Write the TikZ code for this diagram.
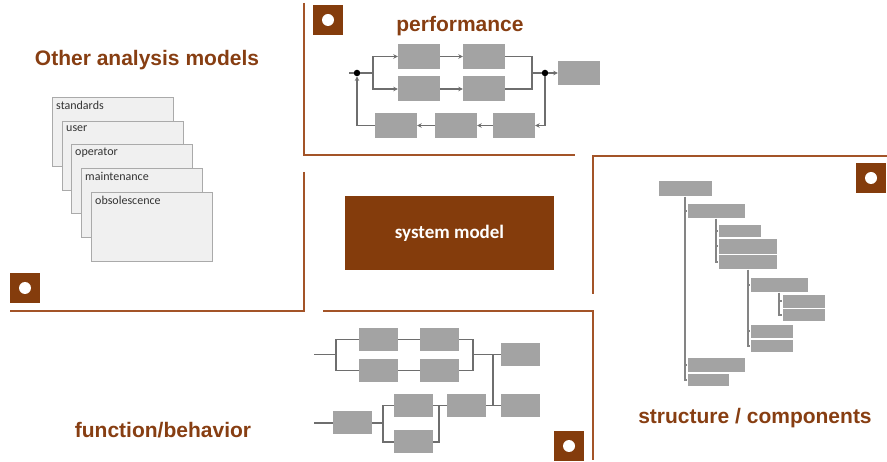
\documentclass[tikz,border=0pt]{standalone}
\usepackage{fontspec}
\setmainfont{Liberation Sans}
\newfontfamily\calfont{Carlito}
\usetikzlibrary{arrows.meta}
\definecolor{brownline}{RGB}{163,84,40}
\definecolor{browntext}{RGB}{135,62,18}
\definecolor{brownbox}{RGB}{132,60,12}
\definecolor{blk}{RGB}{163,163,163}
\definecolor{cardfill}{RGB}{240,240,240}
\definecolor{cardline}{RGB}{170,170,170}
\definecolor{wire}{RGB}{110,110,110}
\tikzset{
  title/.style={text=browntext, font=\fontsize{21}{23}\selectfont\bfseries, inner sep=0},
  frame/.style={draw=brownline, line width=2.6pt},
  icon/.style={fill=brownbox, minimum size=30pt, inner sep=0, draw=none,
    path picture={\fill[white] (path picture bounding box.center) circle (6pt);}},
  gblk/.style={fill=blk, draw=none, inner sep=0},
  wireln/.style={draw=wire, line width=1.8pt},
  arr/.style={wireln, -{Stealth[length=4.5pt,width=4.5pt]}},
  tln/.style={draw=wire!85, line width=1.8pt},
  tblk/.style={fill=blk, draw=white, line width=0.6pt, inner sep=0, anchor=north west},
  card/.style={fill=cardfill, draw=cardline, line width=1.3pt, minimum width=121pt, minimum height=69pt, inner sep=0, anchor=north west},
  cardtxt/.style={anchor=north west, inner sep=0, font=\calfont\fontsize{12}{14}\selectfont, text=black!80},
  dot/.style={circle, fill=black, inner sep=0, minimum size=6.5pt}
}
\begin{document}
\begin{tikzpicture}[x=1pt,y=-1pt]
\useasboundingbox (0,0) rectangle (887,462);

% ---------- frames ----------
\draw[frame] (304,3) -- (304,155) -- (575,155);
\draw[frame] (304,172) -- (304,311) -- (10,311);
\draw[frame] (593,294) -- (593,156) -- (887,156);
\draw[frame] (323,311) -- (593,311) -- (593,460);

% ---------- icons ----------
\node[icon] (ic1) at (328,20) {};
\node[icon] (ic2) at (25,288) {};
\node[icon] (ic3) at (871,178) {};
\node[icon] (ic4) at (569,446) {};

% ---------- titles ----------
\node[title] (t1) at (147,60) {Other analysis models};
\node[title] (t2) at (460,26) {performance};
\node[title] (t3) at (755,418) {structure / components};
\node[title] (t4) at (163,430) {function/behavior};

% ---------- system model ----------
\node[fill=brownbox, minimum width=209pt, minimum height=74pt, inner sep=0, text=white,
  font=\calfont\fontsize{19}{21}\selectfont\bfseries] (sm) at (449.5,233) {system model};

% ---------- cards ----------
\node[card] (c1) at (52,97) {};
\node[cardtxt] (c1t) at (56,101) {standards};
\node[card] (c2) at (62,121) {};
\node[cardtxt] (c2t) at (66,125) {user};
\node[card] (c3) at (71,144) {};
\node[cardtxt] (c3t) at (75,148) {operator};
\node[card] (c4) at (81,168) {};
\node[cardtxt] (c4t) at (85,172) {maintenance};
\node[card] (c5) at (91,192) {};
\node[cardtxt] (c5t) at (95,196) {obsolescence};

% ---------- performance ----------
\node[gblk, minimum width=42pt, minimum height=25pt] (pa1) at (419,56.5) {};
\node[gblk, minimum width=42pt, minimum height=25pt] (pb1) at (484,56.5) {};
\node[gblk, minimum width=42pt, minimum height=25pt] (pa2) at (419,89) {};
\node[gblk, minimum width=42pt, minimum height=25pt] (pb2) at (484,89) {};
\node[gblk, minimum width=42pt, minimum height=24pt] (pout) at (579,73) {};
\node[gblk, minimum width=42pt, minimum height=25pt] (pf1) at (396,125.5) {};
\node[gblk, minimum width=42pt, minimum height=25pt] (pf2) at (456,125.5) {};
\node[gblk, minimum width=42pt, minimum height=25pt] (pf3) at (514,125.5) {};
\node[dot] (dl) at (357,73) {};
\node[dot] (dr) at (545,73) {};
\coordinate (pin) at (349,73);
\coordinate (psplit) at (373,73);
\coordinate (pjoin) at (532,73);
\draw[wireln] (pin) -- (dl) -- (psplit);
\draw[arr] (psplit) |- (pa1.west);
\draw[arr] (psplit) |- (pa2.west);
\draw[arr] (pa1) -- (pb1);
\draw[arr] (pa2) -- (pb2);
\draw[wireln] (pb1.east) -| (pjoin);
\draw[wireln] (pb2.east) -| (pjoin);
\draw[wireln] (pjoin) -- (dr);
\draw[arr] (dr) -- (pout);
\draw[arr] (dr) |- (pf3.east);
\draw[arr] (pf3) -- (pf2);
\draw[arr] (pf2) -- (pf1);
\draw[arr] (pf1.west) -| (dl);

% ---------- function / behavior ----------
\node[gblk, minimum width=39pt, minimum height=23pt] (fa1) at (378.5,339.5) {};
\node[gblk, minimum width=39pt, minimum height=23pt] (fb1) at (439.5,339.5) {};
\node[gblk, minimum width=39pt, minimum height=23pt] (fa2) at (378.5,370.5) {};
\node[gblk, minimum width=39pt, minimum height=23pt] (fb2) at (439.5,370.5) {};
\node[gblk, minimum width=39pt, minimum height=23pt] (fo1) at (520.5,354.5) {};
\node[gblk, minimum width=39pt, minimum height=23pt] (fo2) at (520.5,405.5) {};
\node[gblk, minimum width=39pt, minimum height=23pt] (fc) at (352.5,423) {};
\node[gblk, minimum width=39pt, minimum height=23pt] (fp1) at (413.5,405.5) {};
\node[gblk, minimum width=39pt, minimum height=23pt] (fp2) at (413.5,442) {};
\node[gblk, minimum width=39pt, minimum height=23pt] (fm) at (466.5,405.5) {};
\coordinate (fin1) at (314,354.5);
\coordinate (fs1) at (336,354.5);
\coordinate (fj1) at (473,354.5);
\coordinate (fbus) at (493,354.5);
\coordinate (fin2) at (314,423);
\coordinate (fs2) at (383,423);
\coordinate (fj2) at (439,405.5);
\draw[wireln] (fin1) -- (fs1);
\draw[wireln] (fs1) |- (fa1.west);
\draw[wireln] (fs1) |- (fa2.west);
\draw[wireln] (fa1) -- (fb1);
\draw[wireln] (fa2) -- (fb2);
\draw[wireln] (fb1.east) -| (fj1);
\draw[wireln] (fb2.east) -| (fj1);
\draw[wireln] (fj1) -- (fo1);
\draw[wireln] (fbus) |- (fo2.west);
\draw[wireln] (fm) -- (fo2);
\draw[wireln] (fin2) -- (fc);
\draw[wireln] (fc.east) -- (fs2);
\draw[wireln] (fs2) |- (fp1.west);
\draw[wireln] (fs2) |- (fp2.west);
\draw[wireln] (fp1.east) -| (fj2);
\draw[wireln] (fp2.east) -| (fj2);
\draw[wireln] (fj2) -- (fm);

% ---------- structure tree ----------
\node[tblk, minimum width=54pt, minimum height=16pt] (s1) at (658,180) {};
\node[tblk, minimum width=58pt, minimum height=15pt] (s2) at (687,203) {};
\node[tblk, minimum width=43pt, minimum height=13pt] (s3) at (718,224) {};
\node[tblk, minimum width=59pt, minimum height=16pt] (s4) at (718,238) {};
\node[tblk, minimum width=59pt, minimum height=15pt] (s5) at (718,254) {};
\node[tblk, minimum width=58pt, minimum height=15pt] (s6) at (750,277) {};
\node[tblk, minimum width=43pt, minimum height=14pt] (s7) at (782,294) {};
\node[tblk, minimum width=43pt, minimum height=13pt] (s8) at (782,308) {};
\node[tblk, minimum width=43pt, minimum height=14pt] (s9) at (750,324) {};
\node[tblk, minimum width=43pt, minimum height=13pt] (s10) at (750,339) {};
\node[tblk, minimum width=58pt, minimum height=15pt] (s11) at (687,357) {};
\node[tblk, minimum width=42pt, minimum height=13pt] (s12) at (687,373) {};
\draw[tln] (s1.south) |- (s12.west);
\draw[tln] (s2.west -| s1.south) -- (s2.west);
\draw[tln] (s11.west -| s1.south) -- (s11.west);
\draw[tln] (s2.south) |- (s5.west);
\draw[tln] (s3.west -| s2.south) -- (s3.west);
\draw[tln] (s4.west -| s2.south) -- (s4.west);
\draw[tln] (s5.south) |- (s10.west);
\draw[tln] (s6.west -| s5.south) -- (s6.west);
\draw[tln] (s9.west -| s5.south) -- (s9.west);
\draw[tln] (s6.south) |- (s8.west);
\draw[tln] (s7.west -| s6.south) -- (s7.west);
\end{tikzpicture}
\end{document}
